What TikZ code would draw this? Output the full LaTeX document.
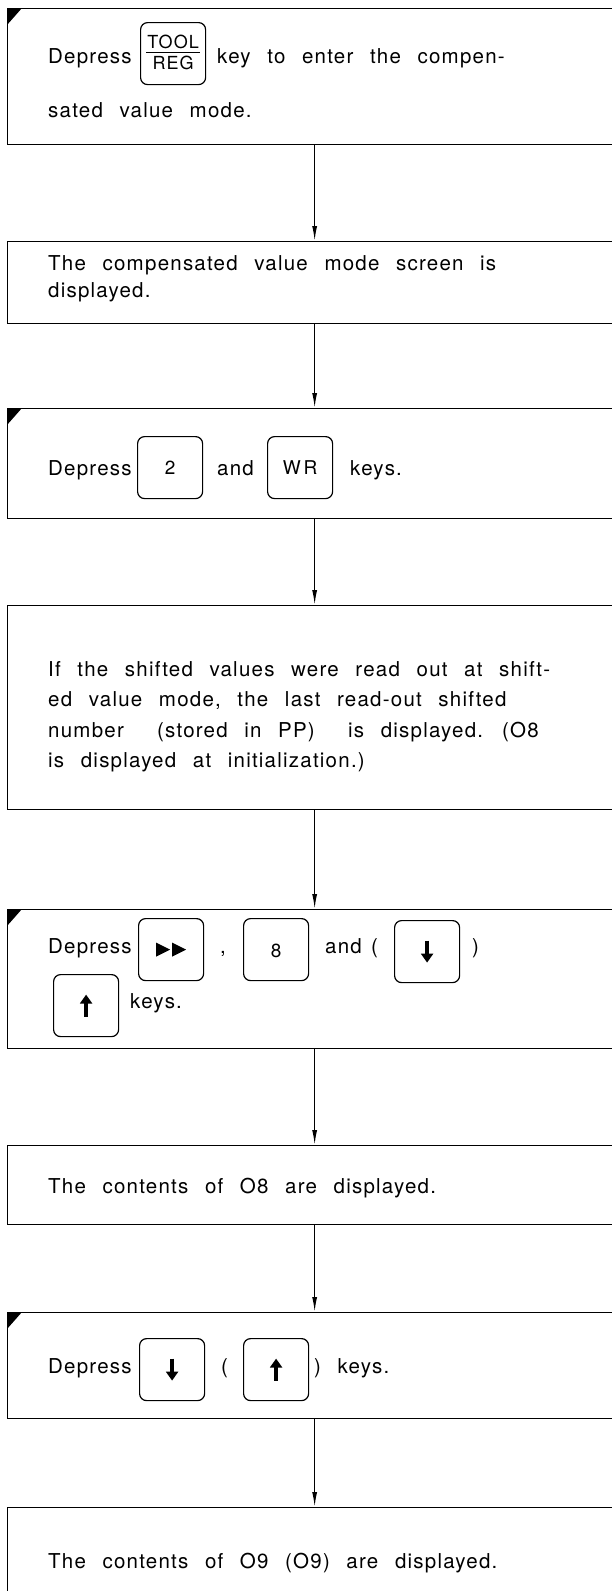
\documentclass[tikz,border=0pt]{standalone}
\usepackage{fontspec}
\setmainfont{TeX Gyre Heros}[LetterSpace=6, WordSpace=2.4]
\usetikzlibrary{arrows.meta}
\tikzset{
  frame/.style={draw, line width=1.3pt, anchor=north west, minimum width=614pt, inner sep=0pt},
  txt/.style={anchor=base west, inner sep=0pt, font=\fontsize{20.5}{29}\selectfont},
  keybox/.style={draw, line width=1.2pt, rounded corners=7pt, minimum width=65pt,
    minimum height=62pt, inner sep=0pt, anchor=north west},
  keylabel/.style={anchor=base, inner sep=0pt, font=\fontsize{19}{21}\selectfont},
  flow/.style={line width=1.3pt, -{Latex[length=15pt,width=5pt]}},
  keyarrow/.style={line width=3.6pt, -{Triangle[length=9pt,width=12pt]}},
}
\newcommand{\cornermark}[1]{\fill (#1.north west) -- ++(15,0) -- ++(-15,17) -- cycle;}
\newcommand{\playmark}[1]{%
  \fill ([xshift=-15pt,yshift=7pt]#1.center) -- ++(14,7) -- ++(-14,7) -- cycle;
  \fill ([xshift=1pt,yshift=7pt]#1.center) -- ++(14,7) -- ++(-14,7) -- cycle;}
\begin{document}
\begin{tikzpicture}[x=1pt,y=-1pt]
\fill[white] (0,0) rectangle (612,1591);
\useasboundingbox (0,0) rectangle (612,1591);

% step frames
\node[frame, minimum height=136pt] (b1) at (7,8) {};
\node[frame, minimum height=82pt]  (b2) at (7,241) {};
\node[frame, minimum height=110pt] (b3) at (7,408) {};
\node[frame, minimum height=204pt] (b4) at (7,605) {};
\node[frame, minimum height=139pt] (b5) at (7,909) {};
\node[frame, minimum height=79pt]  (b6) at (7,1145) {};
\node[frame, minimum height=106pt] (b7) at (7,1312) {};
\node[frame, minimum height=110pt] (b8) at (7,1507) {};

\cornermark{b1}
\cornermark{b3}
\cornermark{b5}
\cornermark{b7}

% connectors
\draw[flow] (b1.south) -- (b2.north);
\draw[flow] (b2.south) -- (b3.north);
\draw[flow] (b3.south) -- (b4.north);
\draw[flow] (b4.south) -- (b5.north);
\draw[flow] (b5.south) -- (b6.north);
\draw[flow] (b6.south) -- (b7.north);
\draw[flow] (b7.south) -- (b8.north);

% step 1
\node[txt] (t1a) at (48,63) {Depress};
\node[keybox] (k1) at (140,22) {};
\node[keylabel, font=\fontsize{18}{20}\selectfont] (k1a) at ([yshift=5pt]k1.center) {TOOL};
\node[keylabel, font=\fontsize{18}{20}\selectfont] (k1b) at ([yshift=-16pt]k1.center) {REG};
\draw[line width=1.1pt] ([xshift=-27pt,yshift=1pt]k1.center) -- ([xshift=27pt,yshift=1pt]k1.center);
\node[txt] (t1b) at (217,63) {key to enter the compen-};
\node[txt] (t1c) at (48,117) {sated value mode.};

% step 2
\node[txt] (t2a) at (48,270) {The compensated value mode screen is};
\node[txt] (t2b) at (48,297) {displayed.};

% step 3
\node[txt] (t3a) at (48,475) {Depress};
\node[keybox] (k2) at (137,436) {};
\node[keylabel] (k2l) at ([yshift=-7pt]k2.center) {2};
\node[txt] (t3b) at (217,475) {and};
\node[keybox] (k3) at (267,436) {};
\node[keylabel] (k3l) at ([yshift=-7pt]k3.center) {W\hspace{3pt}R};
\node[txt] (t3c) at (350,475) {keys.};

% step 4
\node[txt] (t4a) at (48,676) {If the shifted values were read out at shift-};
\node[txt] (t4b) at (48,706) {ed value mode, the last read-out shifted};
\node[txt] (t4c) at (48,737) {number\ \ (stored in PP)\ \ is displayed. (O8};
\node[txt] (t4d) at (48,767) {is displayed at initialization.)};

% step 5
\node[txt] (t5a) at (48,953) {Depress};
\node[keybox] (k4) at (138,918) {};
\playmark{k4}
\node[txt] (t5b) at (220,953) {,};
\node[keybox] (k5) at (243,918) {};
\node[keylabel] (k5l) at ([yshift=-8pt]k5.center) {8};
\node[txt] (t5c) at (325,953) {and};
\node[txt] (t5d) at (371,953) {(};
\node[keybox] (k6) at (394,920) {};
\draw[keyarrow] ([yshift=11pt]k6.center) -- ([yshift=-11pt]k6.center);
\node[txt] (t5e) at (472,953) {)};
\node[keybox] (k7) at (53,974) {};
\draw[keyarrow] ([yshift=-11pt]k7.center) -- ([yshift=11pt]k7.center);
\node[txt] (t5f) at (130,1008) {keys.};

% step 6
\node[txt] (t6) at (48,1193) {The contents of O8 are displayed.};

% step 7
\node[txt] (t7a) at (48,1373) {Depress};
\node[keybox] (k8) at (139,1338) {};
\draw[keyarrow] ([yshift=11pt]k8.center) -- ([yshift=-11pt]k8.center);
\node[txt] (t7b) at (221,1373) {(};
\node[keybox] (k9) at (243,1338) {};
\draw[keyarrow] ([yshift=-11pt]k9.center) -- ([yshift=11pt]k9.center);
\node[txt] (t7c) at (314,1373) {) keys.};

% step 8
\node[txt] (t8) at (48,1568) {The contents of O9 (O9) are displayed.};
\end{tikzpicture}
\end{document}
